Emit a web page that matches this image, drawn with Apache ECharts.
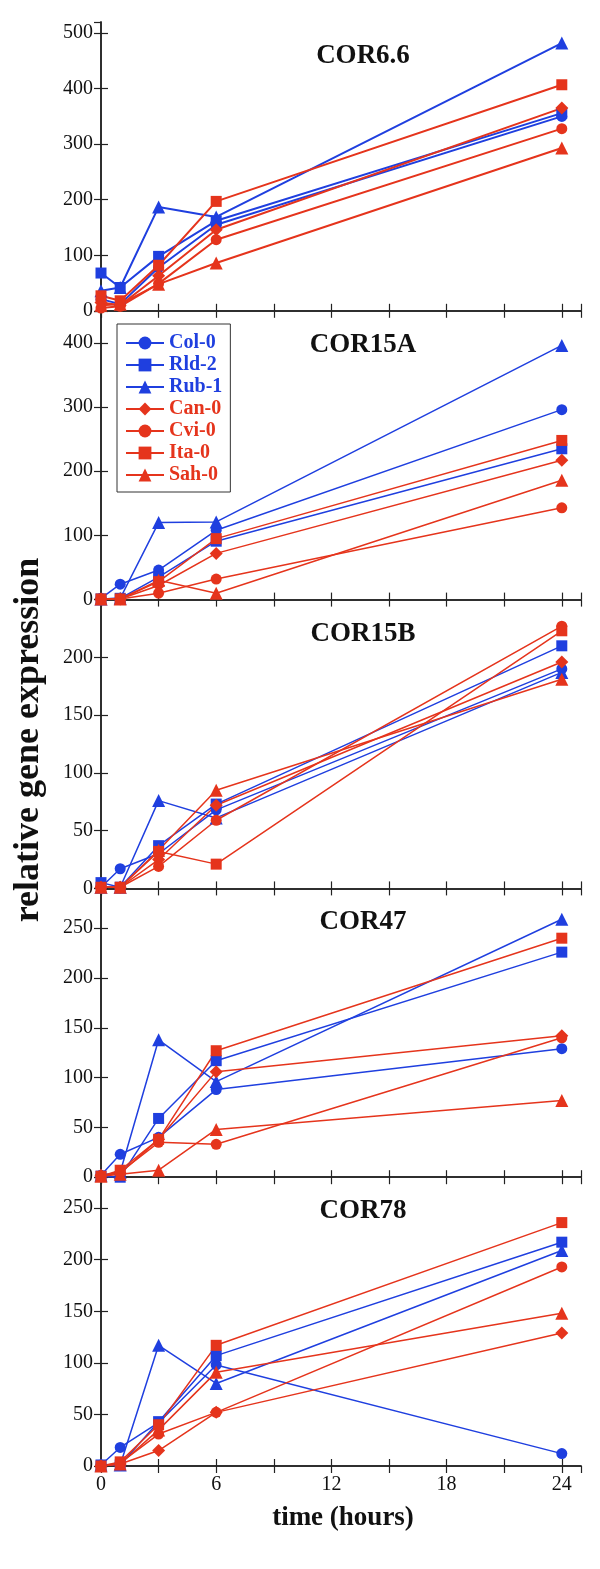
<!DOCTYPE html>
<html>
<head>
<meta charset="utf-8">
<script src="https://cdn.jsdelivr.net/npm/echarts@6/dist/echarts.min.js"></script>
<style>
  html, body { margin: 0; padding: 0; background: #fff; }
  #chart { width: 600px; height: 1569px; }
</style>
</head>
<body>
<div id="chart"></div>
<script>
// time points (hours)
var hours = [0, 1, 3, 6, 24];
var strains = ['Col-0', 'Rld-2', 'Rub-1', 'Can-0', 'Cvi-0', 'Ita-0', 'Sah-0'];
var genes = ['COR6.6', 'COR15A', 'COR15B', 'COR47', 'COR78'];
var xTicks = [0, 6, 12, 18, 24];
var yMax = [520, 450, 250, 290, 280];
var yStep = [100, 100, 50, 50, 50];

// one row per strain, same order as strains
var cor66 = [
    [21, 12, 78, 155, 350],
    [68, 42, 98, 162, 356],
    [36, 42, 187, 169, 482],
    [15, 10, 63, 146, 365],
    [5, 8, 49, 128, 328],
    [27, 18, 82, 197, 407],
    [10, 12, 48, 86, 293]
];
var cor15a = [
    [2, 24, 46, 108, 296],
    [1, 2, 35, 91, 235],
    [1, 2, 120, 121, 396],
    [1, 1, 22, 72, 217],
    [1, 1, 10, 32, 143],
    [1, 1, 28, 95, 248],
    [1, 1, 30, 10, 186]
];
var cor15b = [
    [1, 17, 30, 68, 190],
    [5, 1, 37, 73, 210],
    [1, 1, 76, 61, 187],
    [1, 1, 25, 72, 196],
    [1, 1, 19, 59, 227],
    [1, 1, 32, 21, 223],
    [1, 1, 33, 85, 181]
];
var cor47 = [
    [2, 23, 40, 88, 129],
    [1, 0, 59, 117, 226],
    [2, 5, 138, 96, 259],
    [2, 4, 38, 106, 142],
    [1, 5, 35, 33, 140],
    [1, 7, 38, 127, 240],
    [1, 3, 7, 48, 77]
];
var cor78 = [
    [1, 18, 42, 98, 12],
    [1, 1, 43, 107, 217],
    [1, 1, 117, 80, 209],
    [0, 2, 15, 52, 129],
    [0, 3, 31, 52, 193],
    [0, 4, 40, 117, 236],
    [0, 2, 35, 91, 148]
];
var allData = [cor66, cor15a, cor15b, cor47, cor78];

var BLUE = '#1f3fdf';
var RED = '#e5341c';
var colors = [BLUE, BLUE, BLUE, RED, RED, RED, RED];
var symbols = ['circle', 'rect', 'triangle', 'diamond', 'circle', 'rect', 'triangle'];
var symSize = { circle: 11, rect: 11, triangle: 13, diamond: 13 };
var FONT = "'Liberation Serif', 'Times New Roman', serif";

var myChart = echarts.init(document.getElementById('chart'));

// note: don't call it "top", that is window.top
var firstTop = 22, lastBottom = 1466;
var panelH = (lastBottom - firstTop) / genes.length;

var grids = [], xAxes = [], yAxes = [], series = [], graphics = [];
var lineCol = '#222';

for (var g = 0; g < genes.length; g++) {
    var panelTop = firstTop + g * panelH;
    grids.push({ left: 101, right: 19, top: panelTop, height: panelH });
    var isLast = g === genes.length - 1;
    // bottom x axis
    xAxes.push({
        gridIndex: g, type: 'value', min: 0, max: 25, interval: 3, position: 'bottom',
        axisLine: { lineStyle: { color: lineCol, width: 1.5 } },
        axisTick: { inside: true, length: 7, lineStyle: { color: lineCol, width: 1.2 } },
        axisLabel: {
            show: isLast, showMaxLabel: false, margin: 9,
            color: '#111', fontSize: 20, fontFamily: FONT,
            formatter: function (v) { return xTicks.indexOf(v) >= 0 ? String(v) : ''; }
        },
        splitLine: { show: false }
    });
    // top x axis, ticks only
    xAxes.push({
        gridIndex: g, type: 'value', min: 0, max: 25, interval: 3, position: 'top',
        axisLine: { lineStyle: { color: lineCol, width: 1.5 } },
        axisTick: { inside: true, length: 7, lineStyle: { color: lineCol, width: 1.2 } },
        axisLabel: { show: false },
        splitLine: { show: false }
    });
    yAxes.push({
        gridIndex: g, type: 'value', min: 0, max: yMax[g], interval: yStep[g], position: 'left',
        axisLine: { show: true, lineStyle: { color: lineCol, width: 1.5 } },
        axisTick: { show: true, inside: true, length: 7, lineStyle: { color: lineCol, width: 1.2 } },
        axisLabel: { showMaxLabel: false, margin: 8, color: '#111', fontSize: 20, fontFamily: FONT },
        splitLine: { show: false }
    });
    yAxes.push({
        gridIndex: g, type: 'value', min: 0, max: yMax[g], interval: yStep[g], position: 'right',
        axisLine: { show: true, lineStyle: { color: lineCol, width: 1.5 } },
        axisTick: { show: true, inside: true, length: 7, lineStyle: { color: lineCol, width: 1.2 } },
        axisLabel: { show: false },
        splitLine: { show: false }
    });

    var rows = allData[g];
    for (var s = 0; s < strains.length; s++) {
        var pts = [];
        for (var k = 0; k < hours.length; k++) pts.push([hours[k], rows[s][k]]);
        series.push({
            name: strains[s],
            type: 'line',
            xAxisIndex: g * 2,
            yAxisIndex: g * 2,
            data: pts,
            clip: false,
            symbol: symbols[s],
            symbolSize: symSize[symbols[s]],
            showAllSymbol: true,
            color: colors[s],
            itemStyle: { color: colors[s] },
            lineStyle: { color: colors[s], width: g === 0 ? 2 : 1.5 },
            emphasis: { disabled: true },
            animation: false
        });
    }

    // panel title
    graphics.push({
        type: 'text', x: 363, y: panelTop + 34,
        style: {
            text: genes[g], fill: '#111', align: 'center', verticalAlign: 'middle',
            font: "bold 27px " + FONT
        }
    });
}

graphics.push({
    type: 'text', x: 29, y: 740, rotation: Math.PI / 2,
    style: {
        text: 'relative gene expression', fill: '#111', align: 'center', verticalAlign: 'middle',
        font: "bold 36px " + FONT
    }
});
graphics.push({
    type: 'text', x: 343, y: 1518,
    style: {
        text: 'time (hours)', fill: '#111', align: 'center', verticalAlign: 'middle',
        font: "bold 27px " + FONT
    }
});

var option = {
    backgroundColor: '#fff',
    animation: false,
    grid: grids,
    xAxis: xAxes,
    yAxis: yAxes,
    legend: {
        left: 117, top: 324,
        orient: 'vertical',
        selectedMode: false,
        backgroundColor: '#fff',
        borderColor: '#333', borderWidth: 1,
        padding: [9, 8, 7, 8],
        itemWidth: 38, itemHeight: 16, itemGap: 2,
        textStyle: { fontSize: 20, fontWeight: 'bold', fontFamily: FONT, lineHeight: 18 },
        data: strains.map(function (n, i) {
            return { name: n, textStyle: { color: colors[i] } };
        })
    },
    graphic: graphics,
    series: series
};

myChart.setOption(option);
</script>
</body>
</html>
